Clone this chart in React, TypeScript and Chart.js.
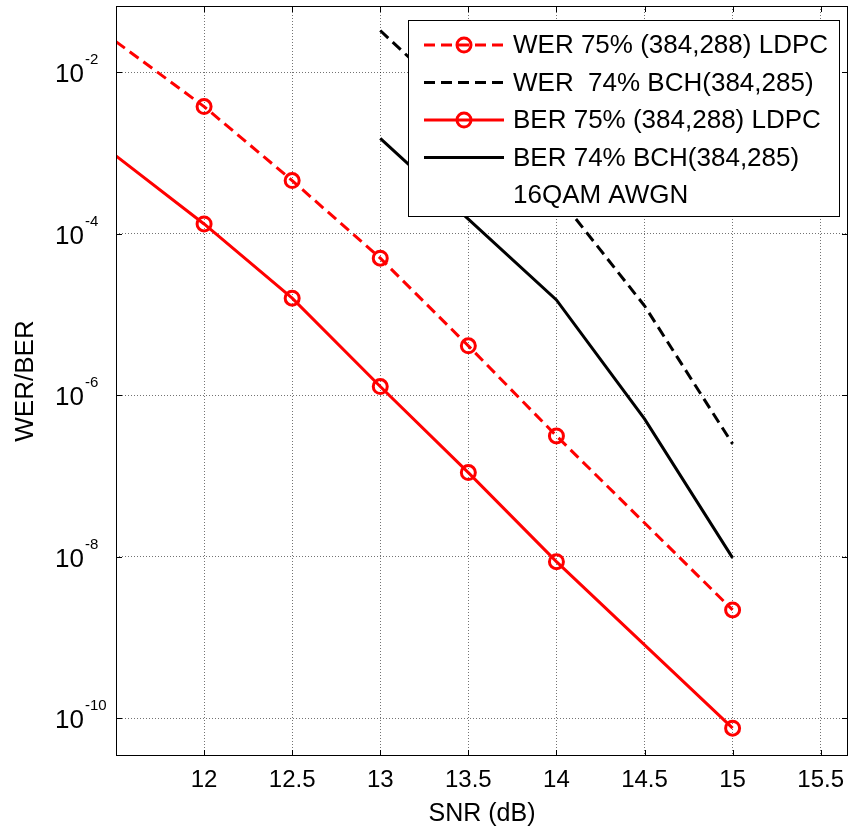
import React, { useEffect, useRef } from 'react';
import { Chart, registerables } from 'chart.js';

Chart.register(...registerables);

// ---- data ----
const snrLdpc = [11.5, 12, 12.5, 13, 13.5, 14, 15];
const werLdpc = [2.39e-2, 3.75e-3, 4.55e-4, 4.97e-5, 4.08e-6, 3.13e-7, 2.19e-9];
const berLdpc = [9.19e-4, 1.32e-4, 1.59e-5, 1.28e-6, 1.10e-7, 8.67e-9, 7.52e-11];
const markerShown = [false, true, true, true, true, true, true];

const snrBch = [13, 13.5, 14, 14.5, 15];
const werBch = [3.28e-2, 3.13e-3, 3.07e-4, 1.28e-5, 2.49e-7];
const berBch = [1.51e-3, 1.51e-4, 1.51e-5, 5.08e-7, 9.66e-9];

const xTicks = [12, 12.5, 13, 13.5, 14, 14.5, 15, 15.5];
const yTicks = [1e-2, 1e-4, 1e-6, 1e-8, 1e-10];

const seriesLabels = [
  'WER 75% (384,288) LDPC',
  'WER  74% BCH(384,285)',
  'BER 75% (384,288) LDPC',
  'BER 74% BCH(384,285)',
  '16QAM AWGN',
];

const xTitle = 'SNR (dB)';
const yTitle = 'WER/BER';

const FONT = '"Liberation Sans", Arial, Helvetica, sans-serif';
const RED = '#ff0000';
const DASH = [11, 6];

const toPoints = (xs: number[], ys: number[]) => xs.map((x, i) => ({ x, y: ys[i] }));

const framePlugin = {
  id: 'matlabFrame',
  afterDraw(chart: any) {
    const { ctx, chartArea: a, scales } = chart;
    const xs = scales.x;
    const ys = scales.y;
    ctx.save();

    // inner tick marks
    ctx.strokeStyle = '#000';
    ctx.lineWidth = 1;
    ctx.setLineDash([]);
    ctx.beginPath();
    xTicks.forEach((v) => {
      const px = Math.round(xs.getPixelForValue(v)) + 0.5;
      ctx.moveTo(px, a.bottom);
      ctx.lineTo(px, a.bottom - 6);
      ctx.moveTo(px, a.top);
      ctx.lineTo(px, a.top + 6);
    });
    yTicks.forEach((v) => {
      const py = Math.round(ys.getPixelForValue(v)) + 0.5;
      ctx.moveTo(a.left, py);
      ctx.lineTo(a.left + 6, py);
      ctx.moveTo(a.right, py);
      ctx.lineTo(a.right - 6, py);
    });
    ctx.stroke();

    // y tick labels 10^n
    ctx.fillStyle = '#000';
    yTicks.forEach((v) => {
      const py = ys.getPixelForValue(v);
      const e = Math.round(Math.log10(v));
      ctx.font = `26px ${FONT}`;
      ctx.textAlign = 'right';
      ctx.textBaseline = 'alphabetic';
      ctx.fillText('10', a.left - 32, py + 10);
      ctx.font = `15px ${FONT}`;
      ctx.textAlign = 'left';
      ctx.fillText(String(e), a.left - 31, py - 8);
    });

    // frame
    ctx.strokeRect(Math.round(a.left) + 0.5, Math.round(a.top) + 0.5,
      Math.round(a.right - a.left) - 1, Math.round(a.bottom - a.top) - 1);

    // legend box inside the plot
    const bw = 431;
    const bh = 196;
    const bx = a.right - 9 - bw;
    const by = a.top + 14;
    ctx.fillStyle = '#fff';
    ctx.fillRect(bx, by, bw, bh);
    ctx.strokeStyle = '#000';
    ctx.lineWidth = 1;
    ctx.strokeRect(bx + 0.5, by + 0.5, bw, bh);

    chart.data.datasets.forEach((ds: any, i: number) => {
      const cy = by + 25 + i * 37.5;
      const x0 = bx + 16;
      const x1 = bx + 96;
      if (ds.borderWidth > 0) {
        ctx.strokeStyle = ds.borderColor;
        ctx.lineWidth = ds.borderWidth;
        ctx.setLineDash(ds.borderDash || []);
        ctx.beginPath();
        ctx.moveTo(x0, cy);
        ctx.lineTo(x1, cy);
        ctx.stroke();
        ctx.setLineDash([]);
        if (ds.legendMarker) {
          ctx.beginPath();
          ctx.lineWidth = ds.pointBorderWidth;
          ctx.arc((x0 + x1) / 2, cy, 7, 0, Math.PI * 2);
          ctx.stroke();
        }
      }
      ctx.fillStyle = '#000';
      ctx.font = `26px ${FONT}`;
      ctx.textAlign = 'left';
      ctx.textBaseline = 'middle';
      ctx.fillText(ds.label, bx + 105, cy + 1);
    });

    ctx.restore();
  },
};

export default function App() {
  const ref = useRef<HTMLCanvasElement | null>(null);

  useEffect(() => {
    if (!ref.current) return;
    const radii = markerShown.map((s) => (s ? 7 : 0));
    const chart = new Chart(ref.current, {
      type: 'line',
      data: {
        datasets: [
          {
            label: seriesLabels[0],
            data: toPoints(snrLdpc, werLdpc),
            borderColor: RED,
            borderWidth: 3,
            borderDash: DASH,
            pointRadius: radii,
            pointBorderWidth: 3,
            pointBorderColor: RED,
            pointBackgroundColor: 'rgba(0,0,0,0)',
            legendMarker: true,
          } as any,
          {
            label: seriesLabels[1],
            data: toPoints(snrBch, werBch),
            borderColor: '#000',
            borderWidth: 3,
            borderDash: DASH,
            pointRadius: 0,
          },
          {
            label: seriesLabels[2],
            data: toPoints(snrLdpc, berLdpc),
            borderColor: RED,
            borderWidth: 3,
            pointRadius: radii,
            pointBorderWidth: 3,
            pointBorderColor: RED,
            pointBackgroundColor: 'rgba(0,0,0,0)',
            legendMarker: true,
          } as any,
          {
            label: seriesLabels[3],
            data: toPoints(snrBch, berBch),
            borderColor: '#000',
            borderWidth: 3,
            pointRadius: 0,
          },
          {
            label: seriesLabels[4],
            data: [],
            borderWidth: 0,
            pointRadius: 0,
          },
        ],
      },
      options: {
        animation: false,
        responsive: false,
        maintainAspectRatio: false,
        layout: { autoPadding: false, padding: { top: 6, right: 5, left: 0, bottom: 0 } },
        plugins: {
          legend: { display: false },
          tooltip: { enabled: false },
        },
        elements: { line: { tension: 0 } },
        scales: {
          x: {
            type: 'linear',
            min: 11.5,
            max: 15.655,
            afterBuildTicks: (s: any) => {
              s.ticks = xTicks.map((v) => ({ value: v }));
            },
            afterFit: (s: any) => {
              s.height = 73;
              s.paddingLeft = 0;
              s.paddingRight = 0;
            },
            ticks: {
              color: '#000',
              font: { family: FONT, size: 24 },
              padding: 10,
              maxRotation: 0,
              autoSkip: false,
              callback: (v: any) => String(v),
            },
            grid: { color: 'rgba(0,0,0,0.55)', lineWidth: 1, drawTicks: false },
            border: { display: false, dash: [1, 2] },
            title: {
              display: true,
              text: xTitle,
              color: '#000',
              font: { family: FONT, size: 25 },
              padding: { top: 0, bottom: 0 },
            },
          },
          y: {
            type: 'logarithmic',
            min: 3.4e-11,
            max: 0.066,
            afterBuildTicks: (s: any) => {
              s.ticks = yTicks.map((v) => ({ value: v }));
            },
            afterFit: (s: any) => {
              s.width = 116;
              s.paddingTop = 0;
              s.paddingBottom = 0;
            },
            ticks: { display: false },
            grid: { color: 'rgba(0,0,0,0.55)', lineWidth: 1, drawTicks: false },
            border: { display: false, dash: [1, 2] },
            title: {
              display: true,
              text: yTitle,
              color: '#000',
              font: { family: FONT, size: 26 },
              padding: { top: 10, bottom: 10 },
            },
          },
        },
      },
      plugins: [framePlugin],
    });
    return () => chart.destroy();
  }, []);

  return (
    <div style={{ position: 'absolute', left: 0, top: 0, width: 853, height: 829, background: '#fff' }}>
      <canvas ref={ref} width={853} height={829} style={{ display: 'block', width: 853, height: 829 }} />
    </div>
  );
}
